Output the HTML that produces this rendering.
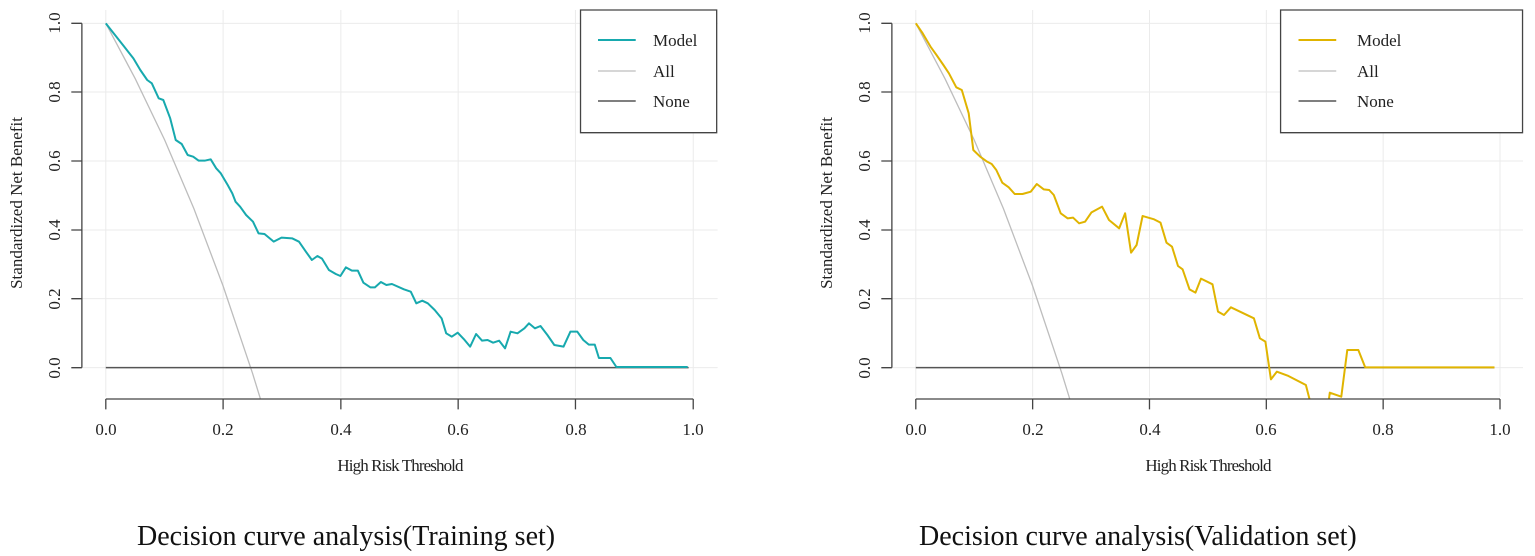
<!DOCTYPE html>
<html><head><meta charset="utf-8"><style>
html,body{margin:0;padding:0;background:#fff;}
svg{display:block;font-family:"Liberation Serif",serif;}
</style></head><body>
<svg width="1535" height="556" viewBox="0 0 1535 556">
<defs>
<clipPath id="c1"><rect x="100" y="0" width="1460" height="1197"/></clipPath>
</defs>

<!-- LEFT PLOT -->
<g transform="scale(0.46,0.33333)">
  <g stroke="#ebebeb" stroke-width="1" fill="none">
    <path vector-effect="non-scaling-stroke" d="M230 30V1190M485 30V1190M741 30V1190M996 30V1190M1251 30V1190M1507 30V1190"/>
    <path vector-effect="non-scaling-stroke" d="M178 70H1560M178 276H1560M178 483H1560M178 690H1560M178 896H1560M178 1103H1560"/>
  </g>
  <g clip-path="url(#c1)" fill="none">
    <polyline vector-effect="non-scaling-stroke" stroke="#bdbdbd" stroke-width="1.3" points="230,70 294,236 358,420 421.5,626 485,858 549,1120 568,1205"/>
    <path vector-effect="non-scaling-stroke" stroke="#555" stroke-width="1.5" d="M230 1103H1497"/>
    <polyline vector-effect="non-scaling-stroke" stroke="#17a9ae" stroke-width="2" stroke-linejoin="round" points="230,70 250,105 270,140 290,175 305,210 320,240 330,250 345,295 355,300 370,355 382,420 395,432 408,465 420,470 432,482 445,482 458,478 470,505 480,520 495,555 505,580 512,605 522,620 535,645 550,665 562,700 575,702 595,725 612,713 635,715 650,725 665,755 678,780 690,768 700,776 715,810 730,822 740,828 752,802 765,812 778,812 790,848 805,862 815,862 828,846 840,855 852,852 878,868 893,875 905,910 918,902 930,910 945,930 960,955 970,1000 982,1010 995,998 1010,1020 1022,1040 1035,1002 1048,1022 1060,1020 1072,1028 1085,1022 1098,1045 1110,995 1125,1000 1140,985 1150,970 1163,985 1175,978 1190,1005 1205,1035 1225,1040 1240,995 1255,995 1268,1020 1280,1034 1293,1034 1302,1074 1327,1074 1340,1101 1495,1101"/>
  </g>
  <g stroke="#444" stroke-width="1.3" fill="none">
    <path vector-effect="non-scaling-stroke" d="M178 70V1103M155 70H178M155 276H178M155 483H178M155 690H178M155 896H178M155 1103H178"/>
    <path vector-effect="non-scaling-stroke" d="M230 1197H1507M230 1197V1228M485 1197V1228M741 1197V1228M996 1197V1228M1251 1197V1228M1507 1197V1228"/>
    <rect vector-effect="non-scaling-stroke" x="1262" y="30" width="296" height="368" fill="#fff"/>
    <path vector-effect="non-scaling-stroke" stroke="#17a9ae" stroke-width="2" d="M1300 120H1382"/>
    <path vector-effect="non-scaling-stroke" stroke="#bdbdbd" d="M1300 213H1382"/>
    <path vector-effect="non-scaling-stroke" stroke="#555" stroke-width="1.5" d="M1300 303H1382"/>
  </g>
</g>
<g font-size="17" fill="#222">
  <g text-anchor="middle">
    <text x="106" y="435">0.0</text><text x="223" y="435">0.2</text><text x="341" y="435">0.4</text><text x="458" y="435">0.6</text><text x="576" y="435">0.8</text><text x="693" y="435">1.0</text>
    <text x="400" y="471" font-size="17" letter-spacing="-0.9">High Risk Threshold</text>
  </g>
  <g text-anchor="middle">
    <text transform="translate(60,23) rotate(-90)">1.0</text>
    <text transform="translate(60,92) rotate(-90)">0.8</text>
    <text transform="translate(60,161) rotate(-90)">0.6</text>
    <text transform="translate(60,230) rotate(-90)">0.4</text>
    <text transform="translate(60,299) rotate(-90)">0.2</text>
    <text transform="translate(60,368) rotate(-90)">0.0</text>
    <text transform="translate(22,203) rotate(-90)" font-size="17">Standardized Net Benefit</text>
  </g>
  <text x="653" y="46">Model</text><text x="653" y="77">All</text><text x="653" y="107">None</text>
</g>
<text x="137" y="545" font-size="28" fill="#111">Decision curve analysis(Training set)</text>

<!-- RIGHT PLOT -->
<g transform="translate(810,0) scale(0.46,0.33333)">
  <g stroke="#ebebeb" fill="none">
    <path vector-effect="non-scaling-stroke" d="M230 30V1190M484 30V1190M738 30V1190M992 30V1190M1246 30V1190M1500 30V1190"/>
    <path vector-effect="non-scaling-stroke" d="M178 70H1550M178 276H1550M178 483H1550M178 690H1550M178 896H1550M178 1103H1550"/>
  </g>
  <g clip-path="url(#c1)" fill="none">
    <polyline vector-effect="non-scaling-stroke" stroke="#bdbdbd" stroke-width="1.3" points="230,70 293.5,236 357,420 420.5,626 484,858 547.5,1120 566.5,1205"/>
    <path vector-effect="non-scaling-stroke" stroke="#555" stroke-width="1.5" d="M230 1103H1488"/>
    <polyline vector-effect="non-scaling-stroke" stroke="#e0b400" stroke-width="2" stroke-linejoin="round" points="230,70 245,100 262,140 275,165 290,195 302,220 318,262 330,270 345,340 355,450 370,470 385,485 395,492 405,510 418,548 432,562 445,582 462,582 480,575 493,552 508,568 520,570 530,585 545,640 560,655 572,653 585,670 598,665 612,637 635,620 650,660 672,685 685,640 698,758 710,735 723,648 748,658 762,668 775,728 787,740 800,798 810,808 825,868 838,878 850,836 875,853 887,935 900,945 915,922 965,955 978,1015 990,1025 1002,1138 1015,1115 1040,1128 1078,1155 1092,1230 1125,1230 1130,1178 1155,1190 1168,1050 1192,1050 1207,1102 1488,1102"/>
  </g>
  <g stroke="#444" stroke-width="1.3" fill="none">
    <path vector-effect="non-scaling-stroke" d="M178 70V1103M155 70H178M155 276H178M155 483H178M155 690H178M155 896H178M155 1103H178"/>
    <path vector-effect="non-scaling-stroke" d="M230 1197H1500M230 1197V1228M484 1197V1228M738 1197V1228M992 1197V1228M1246 1197V1228M1500 1197V1228"/>
    <rect vector-effect="non-scaling-stroke" x="1023" y="30" width="526" height="368" fill="#fff"/>
    <path vector-effect="non-scaling-stroke" stroke="#e0b400" stroke-width="2" d="M1062 120H1144"/>
    <path vector-effect="non-scaling-stroke" stroke="#bdbdbd" d="M1062 213H1144"/>
    <path vector-effect="non-scaling-stroke" stroke="#555" stroke-width="1.5" d="M1062 303H1144"/>
  </g>
</g>
<g font-size="17" fill="#222">
  <g text-anchor="middle">
    <text x="916" y="435">0.0</text><text x="1033" y="435">0.2</text><text x="1150" y="435">0.4</text><text x="1266" y="435">0.6</text><text x="1383" y="435">0.8</text><text x="1500" y="435">1.0</text>
    <text x="1208" y="471" font-size="17" letter-spacing="-0.9">High Risk Threshold</text>
  </g>
  <g text-anchor="middle">
    <text transform="translate(870,23) rotate(-90)">1.0</text>
    <text transform="translate(870,92) rotate(-90)">0.8</text>
    <text transform="translate(870,161) rotate(-90)">0.6</text>
    <text transform="translate(870,230) rotate(-90)">0.4</text>
    <text transform="translate(870,299) rotate(-90)">0.2</text>
    <text transform="translate(870,368) rotate(-90)">0.0</text>
    <text transform="translate(832,203) rotate(-90)" font-size="17">Standardized Net Benefit</text>
  </g>
  <text x="1357" y="46">Model</text><text x="1357" y="77">All</text><text x="1357" y="107">None</text>
</g>
<text x="919" y="545" font-size="28" fill="#111">Decision curve analysis(Validation set)</text>
</svg>
</body></html>
